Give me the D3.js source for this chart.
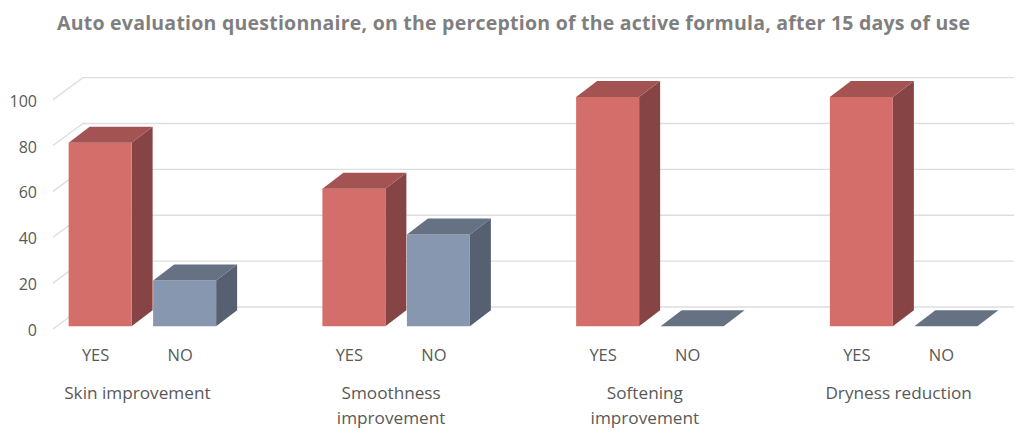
<!DOCTYPE html>
<html><head><meta charset="utf-8">
<script src="https://cdn.jsdelivr.net/npm/d3@7"></script>
<style>html,body{margin:0;padding:0;background:#fff}svg{display:block}text{font-family:"Open Sans",sans-serif}</style>
</head><body><svg id="c" width="1024" height="434"></svg>
<script>
const titleText = "Auto evaluation questionnaire, on the perception of the active formula, after 15 days of use";
const categories = [["Skin improvement"],["Smoothness","improvement"],["Softening","improvement"],["Dryness reduction"]];
const seriesNames = ["YES","NO"];
const yesValues = [80,60,100,100];
const noValues = [20,40,0,0];
const yTicks = [0,20,40,60,80,100];

const svg = d3.select("#c");
const y = d3.scaleLinear().domain([0,100]).range([326.3,96.9]);
const x0 = d3.scaleBand().domain(d3.range(categories.length)).range([15.5,1030.5]).paddingInner(0).paddingOuter(0);
const barW = 63, gap = 21.5, depthX = 21, depthY = 16;
const xBar = (g,s)=> x0(g) + x0.bandwidth()/2 - (2*barW+gap)/2 + s*(barW+gap);

// gridlines
const gridOffset = 2.7;
const grid = svg.append("g").attr("fill","none").attr("stroke","#dedede").attr("stroke-width",1.4);
yTicks.forEach(t=>{
  const yf = y(t)+gridOffset;
  grid.append("path").attr("d",d3.line()([[53,yf],[83,yf-22],[1014,yf-22]]));
});

// y tick labels
svg.append("g").selectAll("text").data(yTicks).join("text")
  .attr("x",37).attr("y",d=>y(d)+9.8).attr("text-anchor","end")
  .attr("font-size",16).attr("fill","#595959").text(d=>d);

const palettes = [
  {front:"#d46e6b",top:"#a35351",side:"#874445"},
  {front:"#8797b0",top:"#667284",side:"#566070"}
];
function bar(g,s,v){
  const p = palettes[s], xl = xBar(g,s), xr = xl+barW, yb = y(0), yt = y(v);
  const poly = (pts,f)=>svg.append("path").attr("d",d3.line()(pts)+"Z").attr("fill",f);
  if(v>0){
    poly([[xr,yt],[xr+depthX,yt-depthY],[xr+depthX,yb-depthY],[xr,yb]],p.side);
    poly([[xl,yt],[xr,yt],[xr,yb],[xl,yb]],p.front);
  }
  poly([[xl,yt],[xl+depthX,yt-depthY],[xr+depthX,yt-depthY],[xr,yt]],p.top);
}
categories.forEach((c,g)=>{
  bar(g,0,yesValues[g]);
  bar(g,1,noValues[g]);
  seriesNames.forEach((n,s)=>{
    svg.append("text").attr("x",xBar(g,s)+27).attr("y",361).attr("text-anchor","middle")
      .attr("font-size",16.5).attr("fill","#595959").text(n);
  });
  c.forEach((line,i)=>{
    svg.append("text").attr("x",x0(g)+x0.bandwidth()/2-5).attr("y",399+i*24.5).attr("text-anchor","middle")
      .attr("font-size",17.2).attr("fill","#595959").text(line);
  });
});

svg.append("text").attr("x",57).attr("y",30).attr("font-size",19.5).attr("font-weight",700)
  .attr("fill","#7f7f7f").attr("textLength",913).attr("lengthAdjust","spacing").text(titleText);
</script></body></html>
